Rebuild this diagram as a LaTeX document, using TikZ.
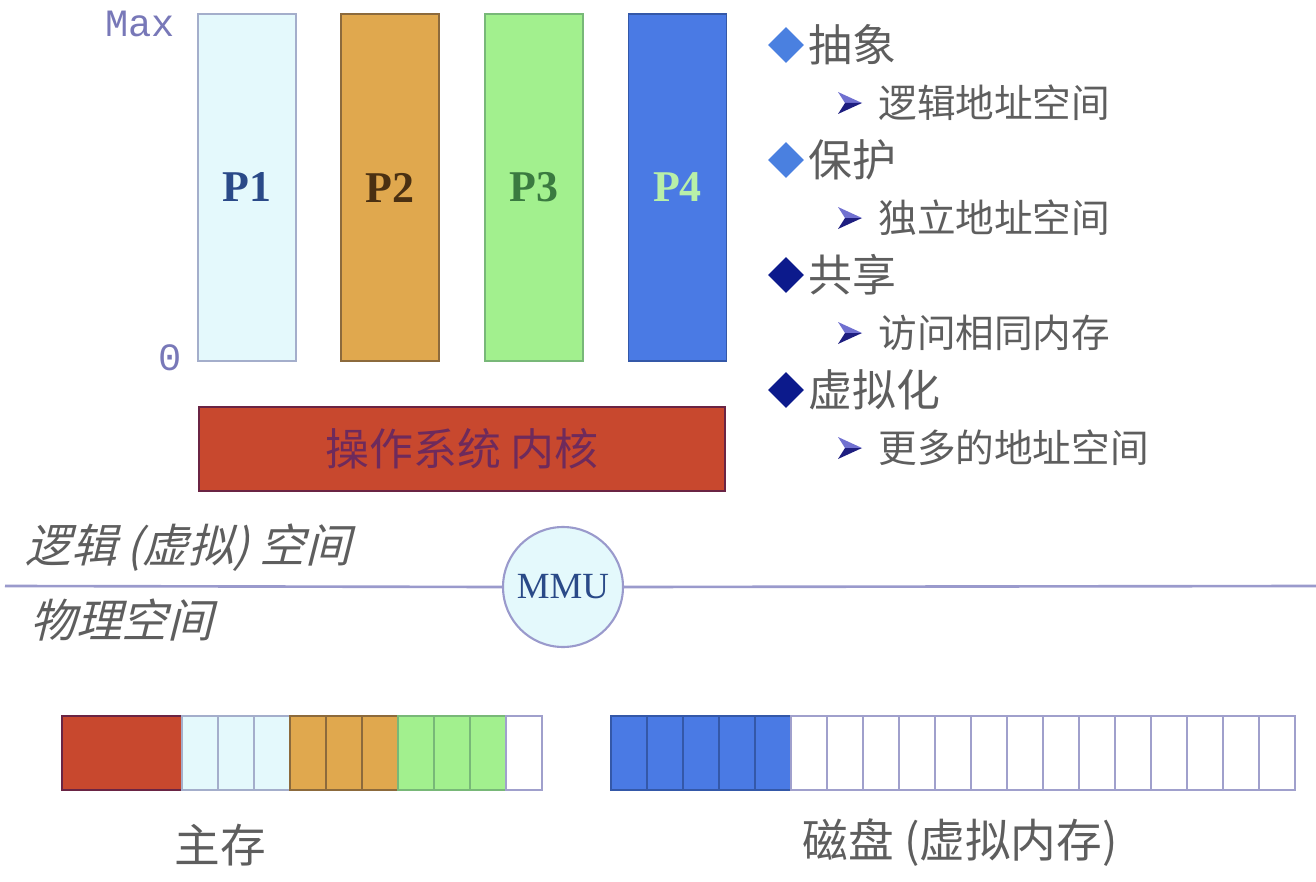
\documentclass[tikz,border=0pt]{standalone}
\usepackage{fontspec}
\setmainfont{Liberation Serif}
\setmonofont{Liberation Mono}
\newfontfamily\cjk{Noto Sans CJK SC}
\newfontfamily\cjkslant[FakeSlant=0.25]{Noto Sans CJK SC}
\usetikzlibrary{shapes.geometric}

\definecolor{pone}{HTML}{E4F9FC}
\definecolor{poneline}{HTML}{A4AECB}
\definecolor{ponetext}{HTML}{2A4A88}
\definecolor{ptwo}{HTML}{E0A84E}
\definecolor{ptwoline}{HTML}{8C6A3C}
\definecolor{ptwotext}{HTML}{4A3012}
\definecolor{pthree}{HTML}{A2F08E}
\definecolor{pthreeline}{HTML}{78B878}
\definecolor{pthreetext}{HTML}{3A7A40}
\definecolor{pfour}{HTML}{4A7AE4}
\definecolor{pfourline}{HTML}{3458A8}
\definecolor{pfourtext}{HTML}{B8F0A8}
\definecolor{kern}{HTML}{C8482E}
\definecolor{kernline}{HTML}{6A2444}
\definecolor{kerntext}{HTML}{6E2A5C}
\definecolor{axistext}{HTML}{7878B8}
\definecolor{sepline}{HTML}{9A9ACC}
\definecolor{cellline}{HTML}{A0A0CC}
\definecolor{graytext}{HTML}{5E5E5E}
\definecolor{bulletlight}{HTML}{4A80E0}
\definecolor{bulletdark}{HTML}{0C1A8C}
\definecolor{tiplight}{HTML}{7070D0}
\definecolor{tipdark}{HTML}{1E1E80}
\definecolor{mmutext}{HTML}{2A4A88}

\begin{document}
\begin{tikzpicture}[x=0.02cm, y=-0.02cm,
	procbox/.style={draw, line width=1pt, minimum width=1.96cm, minimum height=6.94cm, inner sep=0pt, font=\fontsize{25}{30}\selectfont\bfseries},
	cell/.style={draw=cellline, line width=1pt, minimum width=0.72cm, minimum height=1.48cm, inner sep=0pt},
	axislabel/.style={text=axistext, font=\ttfamily\fontsize{22}{26}\selectfont, inner sep=0pt},
	bulletmark/.style={diamond, fill=#1, minimum size=0.72cm, inner sep=0pt},
	head/.style={anchor=west, text=graytext, font=\cjk\fontsize{25}{30}\selectfont, inner sep=0pt},
	sub/.style={anchor=west, text=graytext, font=\cjk\fontsize{22}{26}\selectfont, inner sep=0pt},
	spacelabel/.style={anchor=west, text=graytext, font=\cjkslant\fontsize{26}{30}\selectfont, inner sep=0pt},
	memlabel/.style={text=graytext, font=\cjk\fontsize{26}{30}\selectfont, inner sep=0pt},
	subtip/.pic={
		\fill[tiplight] (-12,-11) -- (12,0) -- (-5,0) -- cycle;
		\fill[tipdark] (-5,0) -- (12,0) -- (-12,11) -- cycle;
	}]
	\useasboundingbox (0,0) rectangle (1316,882);

	% Logical address spaces of the processes
	\node[procbox, fill=pone, draw=poneline, text=ponetext] (p1) at (247,187.5) {P1};
	\node[procbox, fill=ptwo, draw=ptwoline, text=ptwotext] (p2) at (390,187.5) {P2};
	\node[procbox, fill=pthree, draw=pthreeline, text=pthreetext] (p3) at (534,187.5) {P3};
	\node[procbox, fill=pfour, draw=pfourline, text=pfourtext] (p4) at (677.5,187.5) {P4};
	\node[axislabel] (maxlabel) at (140,24) {Max};
	\node[axislabel] (zerolabel) at (170,358) {0};

	% Kernel
	\node[draw=kernline, fill=kern, line width=1pt, minimum width=10.52cm, minimum height=1.68cm, text=kerntext, font=\cjk\fontsize{25}{30}\selectfont] (kernel) at (462,449) {操作系统 内核};

	% Bullet list
	\node[bulletmark=bulletlight] (b1) at (786,45) {};
	\node[head] (h1) at (808,45) {抽象};
	\pic at (850,103) {subtip};
	\node[sub] (s1) at (878,103) {逻辑地址空间};
	\node[bulletmark=bulletlight] (b2) at (786,160) {};
	\node[head] (h2) at (808,160) {保护};
	\pic at (850,218) {subtip};
	\node[sub] (s2) at (878,218) {独立地址空间};
	\node[bulletmark=bulletdark] (b3) at (786,275) {};
	\node[head] (h3) at (808,275) {共享};
	\pic at (850,333) {subtip};
	\node[sub] (s3) at (878,333) {访问相同内存};
	\node[bulletmark=bulletdark] (b4) at (786,390) {};
	\node[head] (h4) at (808,390) {虚拟化};
	\pic at (850,448) {subtip};
	\node[sub] (s4) at (878,448) {更多的地址空间};

	% Separator with the MMU
	\coordinate (sepleft) at (5,586);
	\coordinate (sepright) at (1316,586);
	\node[circle, draw=sepline, fill=pone, line width=1.2pt, minimum size=2.4cm, inner sep=0pt, text=mmutext, font=\fontsize{21}{25}\selectfont] (mmu) at (563,587) {MMU};
	\draw[sepline, line width=1.5pt] (sepleft) -- (mmu.west);
	\draw[sepline, line width=1.5pt] (mmu.east) -- (sepright);
	\node[spacelabel] (logical) at (25,548) {逻辑 (虚拟) 空间};
	\node[spacelabel] (physical) at (30,620) {物理空间};

	% Main memory
	\node[cell, fill=kern, draw=kernline, minimum width=2.4cm] (memkern) at (122,753) {};
	\foreach \c/\l [count=\i from 0] in {pone/poneline, pone/poneline, pone/poneline, ptwo/ptwoline, ptwo/ptwoline, ptwo/ptwoline, pthree/pthreeline, pthree/pthreeline, pthree/pthreeline, white/cellline}
		\node[cell, fill=\c, draw=\l] (mem\i) at (200+36*\i,753) {};
	\node[memlabel] (memlabel) at (220,845) {主存};

	% Disk
	\foreach \i in {0,...,4}
		\node[cell, fill=pfour, draw=pfourline] (disk\i) at (629+36*\i,753) {};
	\foreach \i in {5,...,18}
		\node[cell, fill=white] (disk\i) at (629+36*\i,753) {};
	\node[memlabel] (disklabel) at (960,843) {磁盘 (虚拟内存)};
\end{tikzpicture}
\end{document}
